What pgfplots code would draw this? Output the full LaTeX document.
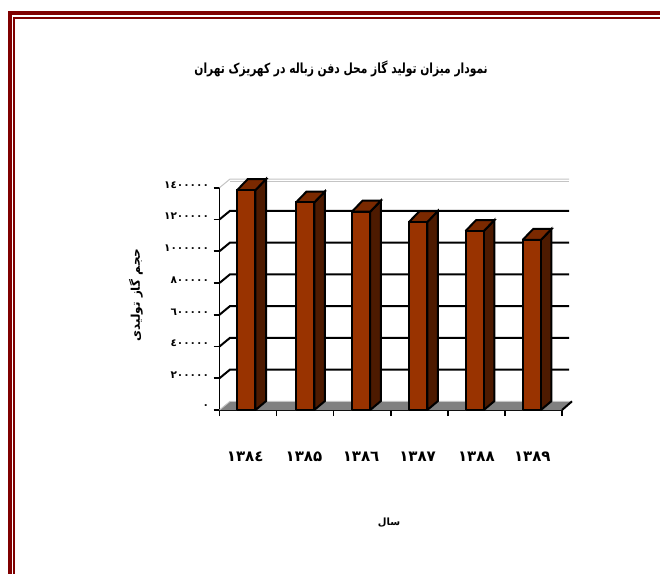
\documentclass[border=0pt]{standalone}
\usepackage{fontspec}
\usepackage{pgfplots}
\pgfplotsset{compat=1.18}
\TeXXeTstate=1
\newfontfamily\fa[Script=Arabic]{DejaVu Sans}
\definecolor{framered}{HTML}{800000}
\definecolor{barfront}{HTML}{993300}
\definecolor{bartop}{HTML}{7A2900}
\definecolor{barside}{HTML}{4D1A00}
\definecolor{floorgray}{HTML}{808080}
\definecolor{wallgray}{HTML}{C4C4C4}

% One 3-D column: front face at #1 (left edge), height #2, with side and top faces
\newcommand{\column}[2]{%
  \pgfmathsetmacro\xa{#1}%
  \pgfmathsetmacro\xb{#1+0.32}%
  \pgfmathsetmacro\xc{#1+0.32+0.185}%
  \pgfmathsetmacro\xd{#1+0.185}%
  \edef\yt{\the\numexpr#2+69000\relax}%
  \addplot[draw=black,line width=2pt,line join=miter,fill=barside]
    coordinates {(\xb,0) (\xc,56000) (\xc,\yt) (\xb,#2) (\xb,0)};
  \addplot[draw=black,line width=2pt,line join=miter,fill=bartop]
    coordinates {(\xa,#2) (\xb,#2) (\xc,\yt) (\xd,\yt) (\xa,#2)};
  \addplot[draw=black,line width=2pt,line join=miter,fill=barfront]
    coordinates {(\xa,0) (\xb,0) (\xb,#2) (\xa,#2) (\xa,0)};
}
% Gridline on the back wall, with its slanted run across the side wall
\newcommand{\gridrun}[1]{%
  \edef\yb{\the\numexpr#1+54800\relax}%
  \addplot[draw=black,line width=2pt] coordinates {(0,#1) (0.185,\yb) (6.123,\yb)};
}

\begin{document}
\begin{tikzpicture}[x=1pt,y=1pt]
  \useasboundingbox (0,0) rectangle (660,574);
  \fill[white] (0,0) rectangle (660,574);
  % page border
  \fill[framered] (8,0) rectangle (12,563);
  \fill[framered] (8,559) rectangle (660,563);
  \fill[framered] (13,0) rectangle (15,557);
  \fill[framered] (13,555) rectangle (660,557);

  \begin{axis}[
    at={(219.5pt,164pt)}, anchor=south west,
    scale only axis, width=342.5pt, height=222.3pt,
    xmin=0, xmax=6, ymin=0, ymax=1400000,
    clip=false,
    scaled y ticks=false,
    axis x line=bottom, axis y line=left,
    axis line style={-, black, line width=1.8pt},
    tick style={black, line width=1.6pt},
    tick align=outside,
    major tick length=6pt,
    xtick={0,1,2,3,4,5,6},
    xticklabels={},
    extra x ticks={0.45,1.48,2.48,3.47,4.5,5.48},
    extra x tick labels={۱۳۸٤,۱۳۸۵,۱۳۸٦,۱۳۸۷,۱۳۸۸,۱۳۸۹},
    extra x tick style={major tick length=0pt,
      tick label style={yshift=-38pt, font=\fa\bfseries\fontsize{15}{15}\selectfont}},
    ytick={0,200000,400000,600000,800000,1000000,1200000,1400000},
    yticklabels={۰,۲۰۰۰۰۰,٤۰۰۰۰۰,٦۰۰۰۰۰,۸۰۰۰۰۰,۱۰۰۰۰۰۰,۱۲۰۰۰۰۰,۱٤۰۰۰۰۰},
    yticklabel style={font=\fa\bfseries\fontsize{10.5}{11}\selectfont, xshift=-1pt, yshift=3pt},
    title={\scalebox{1}[1.3]{\fa\bfseries\beginR نمودار میزان تولید گاز محل دفن زباله در کهریزک تهران\endR}},
    title style={at={(axis description cs:0.355,1.507)}, anchor=center,
      font=\fontsize{10.7}{12}\selectfont},
    xlabel={\fa\bfseries\beginR سال\endR},
    xlabel style={at={(axis description cs:0.495,-0.508)}, anchor=center,
      font=\fontsize{10}{11}\selectfont},
    ylabel={\fa\bfseries\beginR حجم گاز تولیدی\endR},
    ylabel style={at={(axis description cs:-0.244,0.517)}, anchor=center,
      font=\fontsize{12}{13}\selectfont},
  ]
    % side wall and back wall outlines
    \addplot[draw=wallgray,line width=1pt] coordinates {(0,1400000) (0.185,1454800) (6.123,1454800)};
    \addplot[draw=wallgray,line width=1pt] coordinates {(0.185,1440000) (6.123,1440000)};
    % floor
    \addplot[draw=none,fill=floorgray] coordinates {(0,0) (6,0) (6.175,54800) (0.185,54800) (0,0)};
    \addplot[draw=wallgray,line width=1pt] coordinates {(0,0) (0.185,54800) (6.175,54800)};
    \addplot[draw=black,line width=2pt] coordinates {(6,0) (6.175,54800)};
    % gridlines
    \gridrun{200000}
    \gridrun{400000}
    \gridrun{600000}
    \gridrun{800000}
    \gridrun{1000000}
    \gridrun{1200000}
    % gas volume per year
    \column{0.31}{1385000}
    \column{1.34}{1307000}
    \column{2.32}{1249000}
    \column{3.32}{1184000}
    \column{4.31}{1127000}
    \column{5.31}{1071000}
  \end{axis}
\end{tikzpicture}
\end{document}
